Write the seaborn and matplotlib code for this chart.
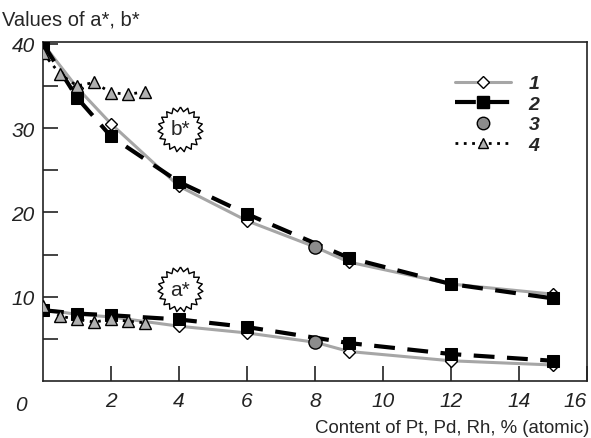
import numpy as np
import pandas as pd
import matplotlib
matplotlib.use('Agg')
import matplotlib.pyplot as plt
import seaborn as sns
from matplotlib.lines import Line2D

# Values
x1 = [0, 1, 2, 4, 6, 8, 9, 12, 15]
b1 = [40.0, 34.8, 30.5, 23.1, 19.0, 15.9, 14.1, 11.5, 10.3]
a1 = [8.5, 7.9, 7.6, 6.5, 5.7, 4.6, 3.5, 2.4, 1.9]

x2 = [0, 1, 2, 4, 6, 9, 12, 15]
b2 = [40.0, 33.6, 29.0, 23.6, 19.8, 14.6, 11.5, 9.8]
a2 = [8.4, 8.0, 7.8, 7.3, 6.4, 4.5, 3.2, 2.4]

x3 = [8, 8]
y3 = [15.9, 4.6]

x4 = [0, 0.5, 1, 1.5, 2, 2.5, 3]
b4 = [38.9, 36.4, 35.0, 35.4, 34.2, 34.0, 34.3]
a4 = [8.9, 7.7, 7.3, 7.0, 7.3, 7.1, 6.9]

xticks = [2, 4, 6, 8, 10, 12, 14, 16]
yticks = [10, 20, 30, 40]
legend_labels = ['1', '2', '3', '4']

sns.set_style('ticks')
plt.rcParams['font.family'] = ['Liberation Sans', 'DejaVu Sans']

fig = plt.figure(figsize=(5.91, 4.39), dpi=100)
ax = fig.add_axes([0.0728, 0.1298, 0.9204, 0.7722])

gray = '#a6a6a6'
mark1 = [0, 1, 2, 3, 4, 6, 7, 8]

# series 1: gray solid, open diamonds
for yy in (b1, a1):
    sns.lineplot(x=x1, y=yy, ax=ax, color=gray, lw=2.2, marker='D', ms=6,
                 mfc='white', mec='black', mew=1.0, markevery=mark1, zorder=2)
# series 2: black dashed, filled squares
for yy in (b2, a2):
    sns.lineplot(x=x2, y=yy, ax=ax, color='black', lw=3, dashes=False,
                 linestyle=(0, (5, 3)), marker='s', ms=8, mfc='black',
                 mec='black', zorder=3)
# series 3: gray circles
sns.scatterplot(x=x3, y=y3, ax=ax, color='#8c8c8c', edgecolor='black',
                linewidth=1.0, s=90, zorder=5)
# series 4: dotted, gray triangles
for yy in (b4, a4):
    sns.lineplot(x=x4, y=yy, ax=ax, color='black', lw=2, linestyle=(0, (1, 2)),
                 marker='^', ms=8, mfc='#b0b0b0', mec='black', mew=1.0, zorder=4)

# starburst labels
n = 19
ang = np.linspace(0, 2 * np.pi, 2 * n, endpoint=False) + np.pi / 2
rad = np.where(np.arange(2 * n) % 2 == 0, 1.0, 0.8)
star = list(zip(rad * np.cos(ang), rad * np.sin(ang)))
star.append(star[0])
for sx, sy, txt in [(4.03, 29.9, 'b*'), (4.03, 10.9, 'a*')]:
    ax.scatter([sx], [sy], marker=star, s=1050, facecolor='white',
               edgecolor='black', linewidth=1.0, zorder=6)
    ax.text(sx, sy, txt, ha='center', va='center', fontsize=15, zorder=7)

ax.set_xlim(0, 16)
ax.set_ylim(0, 40.2)
ax.set_xticks(xticks)
ax.set_xticklabels([str(t) for t in xticks], fontstyle='italic', fontsize=15)
ax.get_xticklabels()[-1].set_ha('right')
ax.set_yticks(yticks)
ax.set_yticklabels([str(t) for t in yticks], fontstyle='italic', fontsize=15)
ax.set_yticks([5, 15, 25, 35], minor=True)
ax.tick_params(axis='both', which='both', direction='in', length=11, width=1.2,
               colors='#222222', labelcolor='#222222')
ax.tick_params(axis='x', pad=7)
ax.tick_params(axis='y', pad=6)
ax.text(-0.65, -0.042, '0', transform=ax.get_xaxis_transform(), ha='center',
        va='top', fontstyle='italic', fontsize=15, color='#222222')
for sp in ax.spines.values():
    sp.set_visible(True)
    sp.set_linewidth(1.2)
    sp.set_color('#222222')

ax.set_xlabel('')
ax.set_ylabel('')
fig.text(0.003, 0.975, 'Values of a*, b*', ha='left', va='top', fontsize=14.5)
fig.text(0.998, 0.005, 'Content of Pt, Pd, Rh, % (atomic)', ha='right',
         va='bottom', fontsize=13.4)

handles = [
    Line2D([], [], color=gray, lw=2.2, marker='D', ms=6, mfc='white', mec='black'),
    Line2D([], [], color='black', lw=3, linestyle=(0, (5, 3)), marker='s', ms=8),
    Line2D([], [], color='none', marker='o', ms=9, mfc='#8c8c8c', mec='black'),
    Line2D([], [], color='black', lw=2, linestyle=(0, (1, 2)), marker='^', ms=7,
           mfc='#b0b0b0', mec='black'),
]
leg = ax.legend(handles, legend_labels, loc='upper right',
                bbox_to_anchor=(0.945, 0.955), frameon=False, handlelength=2.9,
                labelspacing=0.15, handletextpad=0.9,
                prop={'weight': 'bold', 'style': 'italic', 'size': 14})

fig.savefig('out.png', dpi=100)
